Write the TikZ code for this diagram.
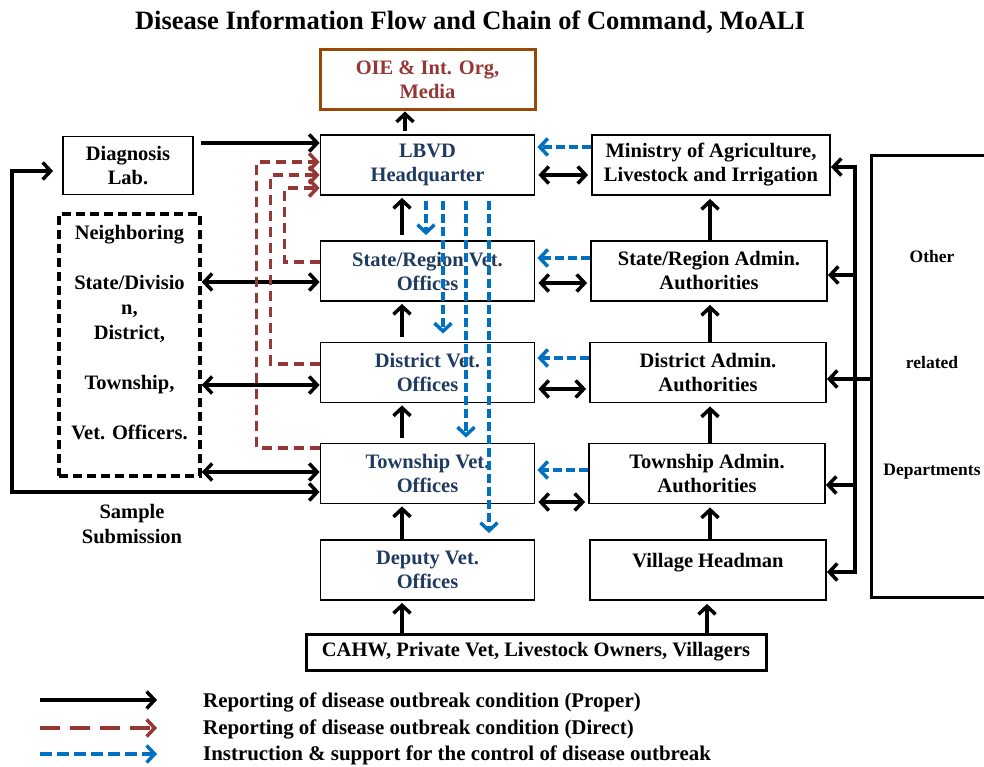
\documentclass[tikz,border=0pt]{standalone}
\usepackage{fontspec}
\setmainfont{Liberation Serif}
\usetikzlibrary{arrows.meta,calc}

\definecolor{vetblue}{HTML}{1F3A60}
\definecolor{oiered}{HTML}{953735}
\definecolor{oiebrown}{HTML}{984807}
\definecolor{directred}{HTML}{953735}
\definecolor{instrblue}{HTML}{0070C0}

\tikzset{
  >={Straight Barb[length=8pt,width=17pt]},
  box/.style={draw,line width=1.8pt,minimum width=214pt,minimum height=60pt,
    align=center,inner sep=2pt,font=\fontsize{20.5}{24}\selectfont\bfseries},
  vetbox/.style={box,text=vetblue},
  adminbox/.style={box,minimum width=236pt},
  plaintext/.style={align=center,inner sep=0pt,font=\fontsize{20.5}{25}\selectfont\bfseries},
  proper/.style={line width=3.5pt,->},
  twoway/.style={line width=3.5pt,<->},
  direct/.style={color=directred,line width=3.5pt,dash pattern=on 10pt off 6pt,->},
  instr/.style={color=instrblue,line width=3.5pt,dash pattern=on 9pt off 4pt,->},
}

\begin{document}
\begin{tikzpicture}[x=1pt,y=-1pt]
  \useasboundingbox (0,0) rectangle (984,767);
  \clip (0,0) rectangle (984,767);

  \node[plaintext,font=\fontsize{26.5}{30}\selectfont\bfseries] (title) at (470,22)
    {Disease Information Flow and Chain of Command, MoALI};

  % vet offices
  \begin{scope}[every node/.style={vetbox}]
    \node[draw=oiebrown,line width=3pt,text=oiered,minimum width=215pt] (oie) at (427.5,80) {OIE \& Int. Org,\\Media};
    \node (lbvd)   at (427.5,165)   {LBVD\\Headquarter};
    \node (srvet)  at (427.5,271)   {State/Region Vet.\\Offices};
    \node (dvet)   at (427.5,372.5) {District Vet.\\Offices};
    \node (tvet)   at (427.5,473.5) {Township Vet.\\Offices};
    \node (depvet) at (427.5,570)   {Deputy Vet.\\Offices};
  \end{scope}

  % admin side
  \begin{scope}[every node/.style={adminbox}]
    \node[minimum width=238pt] (ministry) at (711,165) {Ministry of Agriculture,\\Livestock and Irrigation};
    \node (sradmin) at (709,271)   {State/Region Admin.\\Authorities};
    \node (dadmin)  at (708,372.5) {District Admin.\\Authorities};
    \node (tadmin)  at (707,473.5) {Township Admin.\\Authorities};
    \node[text height=14pt,text depth=20pt] (village) at (708,570) {Village Headman};
  \end{scope}

  \node[box,minimum width=130pt,minimum height=58pt] (lab) at (128,165.5) {Diagnosis\\Lab.};
  \node[box,line width=3pt,minimum width=460pt,minimum height=36pt] (cahw) at (536,652)
    {CAHW, Private Vet, Livestock Owners, Villagers};
  \node[box,line width=3.5pt,dash pattern=on 9pt off 5pt,minimum width=141pt,minimum height=262pt,
    font=\fontsize{20.5}{25}\selectfont\bfseries] (neigh) at (129.5,345)
    {Neighboring\\\mbox{}\\State/Divisio\\n,\\District,\\\mbox{}\\Township,\\\mbox{}\\Vet. Officers.\\\mbox{}};
  \node[box,line width=3pt,minimum width=122pt,minimum height=441pt] (other) at (932,376.5) {};
  \node[plaintext,font=\fontsize{17.5}{106.5}\selectfont\bfseries] (othertxt) at (932,364.5)
    {Other\\related\\Departments};
  \node[plaintext] (sample) at (132,524.5) {Sample\\Submission};

  % proper reporting, upwards
  \coordinate (colO) at (405,0);
  \coordinate (colL) at (402,0);
  \coordinate (colR) at (710,0);
  \coordinate (colC) at (707,0);
  \draw[proper,shorten <=3pt] (lbvd.north -| colO) -- (oie.south -| colO);
  \draw[proper,shorten <=5pt,shorten >=2pt] (srvet.north -| colL) -- (lbvd.south -| colL);
  \draw[proper,shorten <=5pt,shorten >=2pt] (dvet.north -| colL) -- (srvet.south -| colL);
  \draw[proper,shorten <=5pt,shorten >=2pt] (tvet.north -| colL) -- (dvet.south -| colL);
  \draw[proper,shorten >=2pt] (depvet.north -| colL) -- (tvet.south -| colL);
  \draw[proper,shorten >=2pt] (cahw.north -| colL) -- (depvet.south -| colL);
  \draw[proper,shorten >=3pt] (sradmin.north -| colR) -- (ministry.south -| colR);
  \draw[proper,shorten >=3pt] (dadmin.north -| colR) -- (sradmin.south -| colR);
  \draw[proper,shorten >=3pt] (tadmin.north -| colR) -- (dadmin.south -| colR);
  \draw[proper,shorten >=3pt] (village.north -| colR) -- (tadmin.south -| colR);
  \draw[proper,shorten >=3pt] (cahw.north -| colC) -- (village.south -| colC);

  % instructions downwards
  \draw[instr,shorten <=5pt,shorten >=5pt] ($(lbvd.south)+(-1.5,0)$) -- ($(srvet.north)+(-1.5,0)$);
  \draw[instr,shorten <=5pt,shorten >=8pt] ($(lbvd.south)+(15.5,0)$) -- ($(dvet.north)+(15.5,0)$);
  \draw[instr,shorten <=5pt,shorten >=5pt] ($(lbvd.south)+(38.5,0)$) -- ($(tvet.north)+(38.5,0)$);
  \draw[instr,shorten <=5pt,shorten >=6pt] ($(lbvd.south)+(61.5,0)$) -- ($(depvet.north)+(61.5,0)$);

  % admin to vet
  \draw[instr,shorten >=2pt] ($(ministry.west)+(0,-18)$) -- ($(lbvd.east)+(0,-18)$);
  \draw[instr,shorten >=2pt] ($(sradmin.west)+(0,-13)$) -- ($(srvet.east)+(0,-13)$);
  \draw[instr,shorten >=2pt] ($(dadmin.west)+(0,-14.5)$) -- ($(dvet.east)+(0,-14.5)$);
  \draw[instr,shorten >=2pt] ($(tadmin.west)+(0,-3.5)$) -- ($(tvet.east)+(0,-3.5)$);
  \draw[twoway,shorten <=3pt,shorten >=3pt] ($(lbvd.east)+(0,10)$) -- ($(ministry.west)+(0,10)$);
  \draw[twoway,shorten <=3pt,shorten >=3pt] ($(srvet.east)+(0,12)$) -- ($(sradmin.west)+(0,12)$);
  \draw[twoway,shorten <=3pt,shorten >=3pt] ($(dvet.east)+(0,16.5)$) -- ($(dadmin.west)+(0,16.5)$);
  \draw[twoway,shorten <=3pt,shorten >=3pt] ($(tvet.east)+(0,28.5)$) -- ($(tadmin.west)+(0,28.5)$);

  % neighboring offices
  \draw[twoway] ($(neigh.east |- srvet.west)+(0,11)$) -- ($(srvet.west)+(0,11)$);
  \draw[twoway] ($(neigh.east |- dvet.west)+(0,12.5)$) -- ($(dvet.west)+(0,12.5)$);
  \draw[twoway] ($(neigh.east |- tvet.west)+(0,-1.5)$) -- ($(tvet.west)+(0,-1.5)$);

  % lab and sample submission
  \coordinate (loopx) at (12,0);
  \draw[proper] ($(lab.east)+(7,-22.5)$) -- ($(lab.east -| lbvd.west)+(0,-22.5)$);
  \draw[twoway,shorten <=9pt] ($(lab.west)+(0,5.5)$) -| ($(loopx |- tvet.west)+(0,18.5)$)
    -- ($(tvet.west)+(0,18.5)$);

  % direct reporting
  \draw[direct] ($(srvet.west)+(0,-9)$) -| ($(lbvd.west)+(-35,23)$) -- ($(lbvd.west)+(0,23)$);
  \draw[direct] ($(dvet.west)+(0,-8.5)$) -| ($(lbvd.west)+(-49,10)$) -- ($(lbvd.west)+(0,10)$);
  \draw[direct] ($(tvet.west)+(0,-25.5)$) -| ($(lbvd.west)+(-63,-3)$) -- ($(lbvd.west)+(0,-3)$);

  % other departments
  \coordinate (bus) at (855,0);
  \draw[line width=3.5pt,line cap=rect] ($(bus |- ministry.east)+(0,2)$) -- ($(bus |- village.east)+(0,2)$);
  \draw[proper] ($(bus |- ministry.east)+(0,2)$) -- ($(ministry.east)+(0,2)$);
  \draw[proper] ($(bus |- sradmin.east)+(0,4)$) -- ($(sradmin.east)+(0,4)$);
  \draw[proper] ($(other.west |- dadmin.east)+(0,6.5)$) -- ($(dadmin.east)+(0,6.5)$);
  \draw[proper] ($(bus |- tadmin.east)+(0,11.5)$) -- ($(tadmin.east)+(0,11.5)$);
  \draw[proper] ($(bus |- village.east)+(0,2)$) -- ($(village.east)+(0,2)$);

  % legend
  \node[plaintext,anchor=west,font=\fontsize{20.9}{25}\selectfont\bfseries] (lgproper) at (203,702) {Reporting of disease outbreak condition (Proper)};
  \node[plaintext,anchor=west,font=\fontsize{20.9}{25}\selectfont\bfseries] (lgdirect) at (203,729) {Reporting of disease outbreak condition (Direct)};
  \node[plaintext,anchor=west,font=\fontsize{20.9}{25}\selectfont\bfseries] (lginstr)  at (203,755) {Instruction \& support for the control of disease outbreak};
  \coordinate (lgstart) at (40,0);
  \draw[proper] ($(lgstart |- lgproper.west)+(0,-2)$) -- ($(lgproper.west)+(-46,-2)$);
  \draw[direct,dash pattern=on 20pt off 10pt] ($(lgstart |- lgdirect.west)+(0,-1)$) -- ($(lgdirect.west)+(-46,-1)$);
  \draw[instr,dash pattern=on 12pt off 5pt] ($(lgstart |- lginstr.west)+(0,-1)$) -- ($(lginstr.west)+(-46,-1)$);
\end{tikzpicture}
\end{document}
